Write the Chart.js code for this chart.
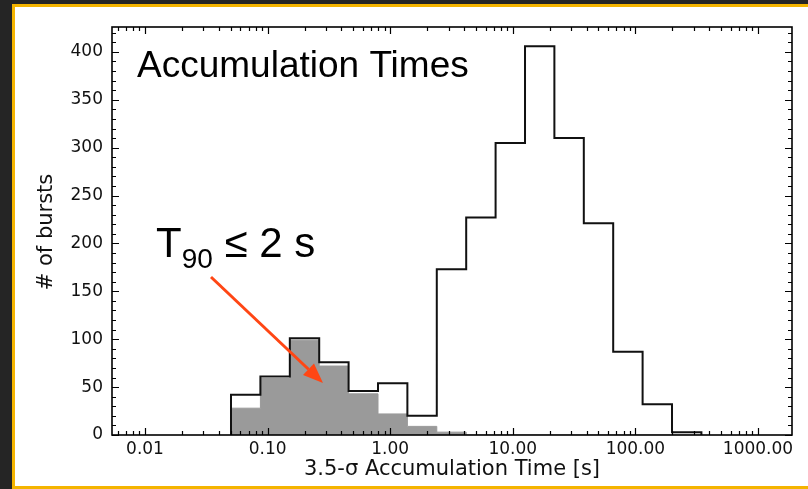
<!DOCTYPE html>
<html>
<head>
<meta charset="utf-8">
<script src="https://cdn.jsdelivr.net/npm/chart.js@4.4.1/dist/chart.umd.min.js"></script>
<style>
  html, body { margin: 0; padding: 0; background: #252525; overflow: hidden; }
  #panel {
    position: absolute; left: 12px; top: 4px; width: 830px; height: 485px;
    box-sizing: border-box; border: 3px solid #f4b400; background: #ffffff;
  }
  #plot { position: absolute; left: 0; top: 0; }
</style>
</head>
<body>
<div id="panel"></div>
<canvas id="plot" width="808" height="489"></canvas>
<script>
// Logarithmic bin edges of the accumulation-time histogram [s]
const binEdges = [0.05029, 0.08737, 0.1518, 0.2636, 0.4578, 0.7954, 1.381, 2.399,
                  4.168, 7.239, 12.58, 21.84, 37.95, 65.91, 114.5, 198.9, 345.5];
// Counts per bin: all bursts, and the short ones (T90 <= 2 s)
const allBursts   = [42, 61, 101, 76, 46, 54, 20, 173, 227, 305, 406, 310, 221, 87, 32, 3];
const shortBursts = [28, 59, 99, 72, 43, 22, 9, 3, 0, 0, 0, 0, 0, 0, 0, 0];

// Axis ticks
const xTickValues = [0.01, 0.1, 1, 10, 100, 1000];
const xTickLabels = ['0.01', '0.10', '1.00', '10.00', '100.00', '1000.00'];
const yTickValues = [0, 50, 100, 150, 200, 250, 300, 350, 400];
const xRange = [0.005381, 1894];
const yRange = [0, 426];

// Closed step outline: each point carries the count of the bin ending at its edge
function stepPoints(edges, counts) {
  const pts = [{ x: edges[0], y: 0 }];
  counts.forEach((c, i) => pts.push({ x: edges[i + 1], y: c }));
  pts.push({ x: edges[edges.length - 1], y: 0 });
  return pts;
}

const FONT = "'DejaVu Sans', sans-serif";

// Frame, inward tick marks, axis titles and annotations
const decorations = {
  id: 'decorations',
  afterDatasetsDraw(chart) {
    const { ctx, chartArea: a, scales: { x, y } } = chart;
    ctx.save();
    ctx.strokeStyle = '#000';
    ctx.lineWidth = 1.2;
    ctx.beginPath();
    // y ticks, left and right
    for (let v = 0; v <= yRange[1]; v += 10) {
      const py = Math.round(y.getPixelForValue(v)) + 0.5;
      const len = v % 50 === 0 ? 7 : 4;
      ctx.moveTo(a.left, py); ctx.lineTo(a.left + len, py);
      ctx.moveTo(a.right, py); ctx.lineTo(a.right - len, py);
    }
    // x ticks (log), bottom and top
    for (let e = -3; e <= 3; e++) {
      for (let k = 1; k <= 9; k++) {
        const v = k * Math.pow(10, e);
        if (v < xRange[0] || v > xRange[1]) continue;
        const px = Math.round(x.getPixelForValue(v)) + 0.5;
        const len = k === 1 ? 7 : 4;
        ctx.moveTo(px, a.bottom); ctx.lineTo(px, a.bottom - len);
        ctx.moveTo(px, a.top); ctx.lineTo(px, a.top + len);
      }
    }
    ctx.stroke();
    ctx.lineWidth = 1.6;
    ctx.strokeRect(a.left, a.top, a.right - a.left, a.bottom - a.top);

    // axis titles
    ctx.fillStyle = '#111';
    ctx.font = '21px ' + FONT;
    ctx.textAlign = 'center';
    ctx.textBaseline = 'alphabetic';
    ctx.fillText('3.5-\u03c3 Accumulation Time [s]', (a.left + a.right) / 2, 475);
    ctx.save();
    ctx.translate(52, 232);
    ctx.rotate(-Math.PI / 2);
    ctx.fillText('# of bursts', 0, 0);
    ctx.restore();

    // panel heading
    ctx.fillStyle = '#000';
    ctx.textAlign = 'left';
    ctx.font = "37px 'Liberation Sans', Arial, sans-serif";
    ctx.fillText('Accumulation Times', 137, 77);

    // T90 label
    ctx.font = "42px 'Liberation Sans', Arial, sans-serif";
    ctx.fillText('T', 156, 257);
    let tx = 156 + ctx.measureText('T').width;
    ctx.font = "28px 'Liberation Sans', Arial, sans-serif";
    ctx.fillText('90', tx, 268);
    tx += ctx.measureText('90').width;
    ctx.font = "42px 'Liberation Sans', Arial, sans-serif";
    ctx.fillText(' \u2264 2 s', tx, 257);

    // arrow pointing at the short-burst histogram
    const x0 = 211, y0 = 277, x1 = 323, y1 = 383;
    const ang = Math.atan2(y1 - y0, x1 - x0);
    const hl = 20, hw = 8;
    const bx = x1 - hl * Math.cos(ang), by = y1 - hl * Math.sin(ang);
    ctx.strokeStyle = '#ff4614';
    ctx.fillStyle = '#ff4614';
    ctx.lineWidth = 3;
    ctx.beginPath();
    ctx.moveTo(x0, y0); ctx.lineTo(bx, by);
    ctx.stroke();
    ctx.beginPath();
    ctx.moveTo(x1, y1);
    ctx.lineTo(bx + hw * Math.sin(ang), by - hw * Math.cos(ang));
    ctx.lineTo(bx - hw * Math.sin(ang), by + hw * Math.cos(ang));
    ctx.closePath();
    ctx.fill();
    ctx.restore();
  }
};

new Chart(document.getElementById('plot'), {
  type: 'line',
  data: {
    datasets: [
      {
        label: 'All bursts',
        data: stepPoints(binEdges, allBursts),
        stepped: 'after',
        borderColor: '#111',
        borderWidth: 2,
        pointRadius: 0,
        fill: false,
        order: 0
      },
      {
        label: 'T90 \u2264 2 s',
        data: stepPoints(binEdges, shortBursts),
        stepped: 'after',
        borderColor: '#9a9a9a',
        borderWidth: 1,
        backgroundColor: '#9a9a9a',
        pointRadius: 0,
        fill: 'origin',
        order: 1
      }
    ]
  },
  options: {
    responsive: false,
    animation: false,
    events: [],
    layout: { padding: { left: 0, top: 27, right: 16, bottom: 0 } },
    plugins: { legend: { display: false }, tooltip: { enabled: false } },
    scales: {
      x: {
        type: 'logarithmic',
        min: xRange[0],
        max: xRange[1],
        bounds: 'data',
        grid: { display: false, drawTicks: false },
        border: { display: false },
        afterBuildTicks: (s) => { s.ticks = xTickValues.map(v => ({ value: v })); },
        afterFit: (s) => { s.height = 54; },
        ticks: {
          autoSkip: false,
          maxRotation: 0,
          padding: 4,
          color: '#111',
          font: { family: FONT, size: 17 },
          callback: (v) => {
            const i = xTickValues.findIndex(t => Math.abs(t - v) / t < 1e-6);
            return i >= 0 ? xTickLabels[i] : '';
          }
        }
      },
      y: {
        min: yRange[0],
        max: yRange[1],
        grid: { display: false, drawTicks: false },
        border: { display: false },
        afterBuildTicks: (s) => { s.ticks = yTickValues.map(v => ({ value: v })); },
        afterFit: (s) => { s.width = 112; },
        ticks: {
          padding: 9,
          color: '#111',
          font: { family: FONT, size: 17 }
        }
      }
    }
  },
  plugins: [decorations]
});
</script>
</body>
</html>
